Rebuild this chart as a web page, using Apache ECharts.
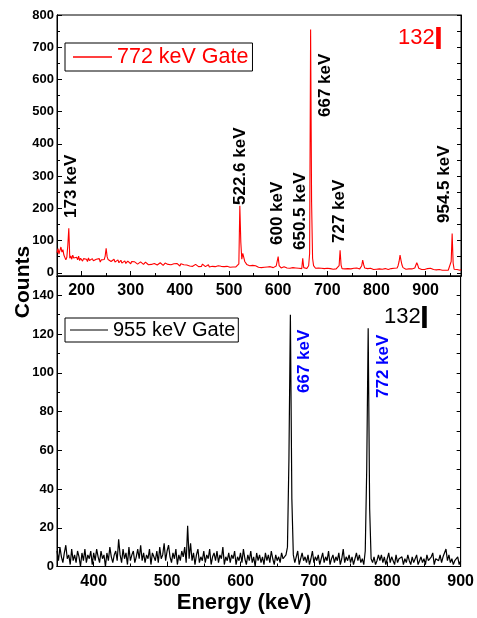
<!DOCTYPE html>
<html>
<head>
<meta charset="utf-8">
<script src="https://cdn.jsdelivr.net/npm/echarts@6/dist/echarts.min.js"></script>
<style>
html,body{margin:0;padding:0;background:#fff;}
#chart{width:477px;height:618px;}
</style>
</head>
<body>
<div id="chart"></div>
<script>
// ---- Data ----
// Top panel: 772 keV gate, 2 keV bins starting at 150 keV
var topStart = 150, topStep = 2;
var topCounts = [
62,75,58,70,80,64,72,55,60,40,48,85,138,45,52,42,55,46,50,41,
48,40,52,38,45,50,36,44,47,39,42,35,46,38,41,33,44,37,40,34,
42,36,39,44,33,40,37,45,41,52,76,50,41,38,44,35,40,36,42,33,
38,34,40,31,36,39,30,35,33,37,29,34,36,30,33,28,35,31,29,34,
30,33,27,32,29,34,28,31,26,30,33,27,29,25,31,28,26,30,27,29,
26,30,24,28,27,31,25,29,23,27,30,24,28,26,22,29,25,27,23,28,
25,22,29,24,26,21,28,23,27,25,20,26,24,22,28,21,25,23,20,24,
22,26,21,24,19,25,23,20,27,22,24,19,23,21,25,18,22,24,20,23,
21,19,24,20,22,18,23,20,17,22,19,21,16,20,18,22,17,19,15,18,
17,15,18,16,19,28,208,95,42,60,48,35,30,26,24,27,22,25,20,23,
21,18,22,19,20,17,21,18,16,20,19,17,21,15,18,20,16,19,17,18,
16,19,17,21,25,50,22,17,15,18,16,19,14,17,15,18,16,14,17,15,
16,14,17,15,13,16,14,18,15,13,45,16,14,15,13,17,22,60,755,220,
45,22,16,14,17,13,15,12,16,14,11,15,13,16,12,14,11,15,13,12,
14,11,13,15,12,16,14,22,70,24,13,11,14,12,15,11,13,10,14,12,
13,11,14,10,12,15,11,13,12,16,22,39,25,15,12,11,13,10,12,14,
11,13,10,12,14,11,9,13,12,10,14,11,12,9,13,11,15,10,12,11,
13,10,12,14,11,13,15,22,35,55,38,24,16,12,14,11,13,10,12,11,
10,12,11,13,15,20,31,24,14,11,12,10,9,12,10,11,9,13,10,8,
14,11,9,10,8,11,9,12,8,10,13,9,8,11,10,8,9,11,8,10,
12,35,122,30,11,9,8,10,7,9,8,10
];
// Bottom panel: 955 keV gate, 2 keV bins starting at 350 keV
var botStart = 350, botStep = 2;
var botCounts = [
8,3,10,5,2,7,11,4,6,1,9,3,6,2,8,5,0,7,3,9,
2,6,4,8,1,7,3,9,5,2,8,4,6,0,7,3,10,5,2,6,
8,3,14,6,2,9,4,7,1,10,3,6,8,2,5,9,4,11,3,7,
2,6,4,9,1,7,5,3,8,2,10,4,6,12,3,8,11,5,2,7,
4,9,1,6,3,8,5,10,2,21,4,12,3,7,1,6,9,2,5,3,
8,2,6,4,9,1,5,7,3,8,2,6,4,10,1,5,3,7,2,6,
4,8,1,5,3,7,2,9,4,1,6,3,8,2,5,0,7,3,6,2,
5,1,7,3,6,2,8,4,1,6,3,5,2,7,4,3,6,10,55,130,
35,6,2,5,8,1,4,7,3,5,2,6,1,4,8,2,5,3,6,1,
4,7,2,5,3,8,1,4,6,2,5,3,7,1,4,9,2,5,3,6,
2,5,1,4,7,3,6,2,4,1,8,50,123,30,4,2,5,1,3,6,
3,6,2,5,1,4,7,2,5,3,1,6,2,4,3,5,1,4,2,6,
3,1,5,2,4,6,1,3,5,2,4,1,6,3,2,5,7,1,4,3,
3,6,2,5,4,9,3,6,2,4,1,3,2,5,1,3
];
// Tick labels
var topXTicks = [200,300,400,500,600,700,800,900];
var topXMinor = [150,250,350,450,550,650,750,850,950];
var topYTicks = [0,100,200,300,400,500,600,700,800];
var topYMinor = [50,150,250,350,450,550,650,750];
var botXTicks = [400,500,600,700,800,900];
var botXMinor = [350,450,550,650,750,850];
var botYTicks = [0,20,40,60,80,100,120,140];
var botYMinor = [10,30,50,70,90,110,130,150];
// Peak annotations
var topPeakLabels = ['173 keV','522.6 keV','600 keV','650.5 keV','667 keV','727 keV','954.5 keV'];
var botPeakLabels = ['667 keV','772 keV'];

// ---- Build ----
function pairs(start, step, arr){ return arr.map(function(c,i){ return [start + i*step, c]; }); }
var FONT = '"Liberation Sans", Arial, sans-serif';
var allYTop = topYTicks.concat(topYMinor);
var allYBot = botYTicks.concat(botYMinor);

function xAx(grid, min, max, ticks, labels, len){
  return {type:'value', gridIndex:grid, min:min, max:max, position:'bottom',
    axisLine:{show:true, onZero:false, lineStyle:{color:'#000', width:1}},
    axisTick:{show:true, inside:true, length:len, customValues:ticks, lineStyle:{color:'#000'}},
    axisLabel:{show:!!labels, customValues:labels||[], color:'#000', fontSize:16, fontWeight:'bold', fontFamily:FONT, margin:7},
    splitLine:{show:false}};
}
function yAx(grid, min, max, pos, ticks, labels, len){
  return {type:'value', gridIndex:grid, min:min, max:max, position:pos,
    axisLine:{show:true, onZero:false, lineStyle:{color:'#000', width:1}},
    axisTick:{show:true, inside:true, length:len, customValues:ticks, lineStyle:{color:'#000'}},
    axisLabel:{show:!!labels, customValues:labels||[], color:'#000', fontSize:13, fontWeight:'bold', fontFamily:FONT, margin:3},
    splitLine:{show:false}};
}

var chart = echarts.init(document.getElementById('chart'), null, {renderer:'canvas'});
var option = {
  animation:false,
  backgroundColor:'#fff',
  grid:[
    {left:57, top:15, width:404, height:261, show:true, borderColor:'#000', borderWidth:1, backgroundColor:'transparent'},
    {left:57, top:276, width:404, height:290.5, show:true, borderColor:'#000', borderWidth:1, backgroundColor:'transparent'}
  ],
  xAxis:[
    xAx(0,150,972,topXTicks,topXTicks,5),
    xAx(0,150,972,topXMinor,null,3),
    xAx(1,350,900,botXTicks,botXTicks,5),
    xAx(1,350,900,botXMinor,null,3)
  ],
  yAxis:[
    yAx(0,-10,800,'left',topYTicks,topYTicks,5),
    yAx(0,-10,800,'left',topYMinor,null,3),
    yAx(0,-10,800,'right',allYTop,null,4),
    yAx(1,0,150,'left',botYTicks,botYTicks,5),
    yAx(1,0,150,'left',botYMinor,null,3),
    yAx(1,0,150,'right',allYBot,null,4)
  ],
  legend:[
    {data:['772 keV Gate'], left:65, top:43, orient:'horizontal',
     borderColor:'#000', borderWidth:1, padding:[3,4,3,8], itemWidth:39, itemHeight:1.5, icon:'rect',
     textStyle:{color:'#ff0000', fontSize:21.5, fontFamily:FONT}},
    {data:['955 keV Gate'], left:65, top:318, orient:'horizontal',
     borderColor:'#000', borderWidth:1, padding:[2,3,2,5], itemWidth:38, itemHeight:1.2, icon:'rect',
     textStyle:{color:'#000', fontSize:20, fontFamily:FONT}}
  ],
  series:[
    {name:'772 keV Gate', type:'line', xAxisIndex:0, yAxisIndex:0, data:pairs(topStart, topStep, topCounts),
     showSymbol:false, symbol:'none', lineStyle:{color:'#ff0000', width:1.1}, itemStyle:{color:'#ff0000'}},
    {name:'955 keV Gate', type:'line', xAxisIndex:2, yAxisIndex:3, data:pairs(botStart, botStep, botCounts),
     showSymbol:false, symbol:'none', lineStyle:{color:'#000', width:1.2}, itemStyle:{color:'#000'}}
  ],
  graphic:[]
};

function vtext(txt, x, y, color, size){
  return {type:'text', x:x, y:y, rotation:Math.PI/2, z:100,
    style:{text:txt, fill:color, font:'bold '+size+'px '+FONT, align:'left', verticalAlign:'middle'}};
}
var topPos = [[71,218],[240,205],[277,245],[300,250],[325.5,117],[339.5,243],[444.7,223]];
var botPos = [[304,393],[383,398]];
topPeakLabels.forEach(function(t,i){ option.graphic.push(vtext(t, topPos[i][0], topPos[i][1], '#000', 17)); });
botPeakLabels.forEach(function(t,i){ option.graphic.push(vtext(t, botPos[i][0], botPos[i][1], '#0000ff', 17)); });
// isotope tags
option.graphic.push({type:'text', x:398, y:27, z:100, style:{text:'132', fill:'#ff0000', font:'22px '+FONT, align:'left', verticalAlign:'top'}});
option.graphic.push({type:'text', x:434, y:24, z:100, style:{text:'I', fill:'#ff0000', font:'bold 32px '+FONT, align:'left', verticalAlign:'top'}});
option.graphic.push({type:'text', x:384, y:306, z:100, style:{text:'132', fill:'#000', font:'22px '+FONT, align:'left', verticalAlign:'top'}});
option.graphic.push({type:'text', x:420, y:303, z:100, style:{text:'I', fill:'#000', font:'bold 32px '+FONT, align:'left', verticalAlign:'top'}});
// axis titles
option.graphic.push({type:'text', x:23, y:282, rotation:Math.PI/2, z:100, style:{text:'Counts', fill:'#000', font:'bold 21px '+FONT, align:'center', verticalAlign:'middle'}});
option.graphic.push({type:'text', x:244, y:603, z:100, style:{text:'Energy (keV)', fill:'#000', font:'bold 22px '+FONT, align:'center', verticalAlign:'middle'}});

chart.setOption(option);
</script>
</body>
</html>
